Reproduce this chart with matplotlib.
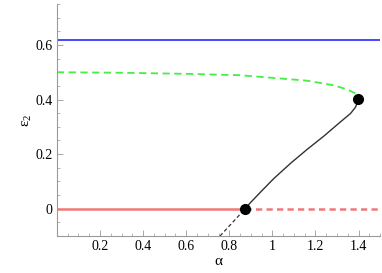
import matplotlib
matplotlib.use("Agg")
import matplotlib.pyplot as plt
from matplotlib.ticker import MultipleLocator, FixedLocator

plt.rcParams['font.family'] = 'serif'
plt.rcParams['font.serif'] = ['Liberation Serif', 'DejaVu Serif']
plt.rcParams['mathtext.fontset'] = 'custom'
plt.rcParams['mathtext.rm'] = 'Liberation Serif'
plt.rcParams['mathtext.it'] = 'Liberation Serif'

SERIF = 'Liberation Serif'

# Data
blue_level = 0.618

green_alpha = [0.0, 0.3, 0.6, 0.85, 1.006, 1.161, 1.285, 1.347, 1.386, 1.397]
green_eps   = [0.500, 0.498, 0.494, 0.489, 0.479, 0.469, 0.452, 0.437, 0.422, 0.401]

black_alpha = [0.874, 0.898, 0.944, 1.006, 1.084, 1.161, 1.239, 1.316, 1.363, 1.386, 1.393, 1.397]
black_eps   = [0.0, 0.022, 0.060, 0.110, 0.166, 0.217, 0.266, 0.318, 0.349, 0.372, 0.386, 0.401]

black_dash_alpha = [0.757, 0.874]
black_dash_eps   = [-0.1, 0.0]

red_solid_alpha = [0.0, 0.874]
red_dash_alpha  = [0.874, 1.5]
red_level = 0.0

dots_alpha = [0.874, 1.397]
dots_eps   = [0.0, 0.401]

x_ticks = [0.2, 0.4, 0.6, 0.8, 1.0, 1.2, 1.4]
x_tick_labels = ['0.2', '0.4', '0.6', '0.8', '1', '1.2', '1.4']
y_ticks = [0, 0.2, 0.4, 0.6]
y_tick_labels = ['0', '0.2', '0.4', '0.6']

fig = plt.figure(figsize=(3.82, 2.73), dpi=100)
ax = fig.add_axes([0.149, 0.1355, 0.846, 0.85])

ax.axhline(blue_level, color='#2626ff', lw=1.2)
ax.plot(green_alpha, green_eps, color='#44ee44', lw=1.3, ls=(0, (4, 2.5)))
ax.plot(red_solid_alpha, [red_level]*2, color='#f07878', lw=1.8, solid_capstyle='butt')
ax.plot(red_dash_alpha, [red_level]*2, color='#f07878', lw=1.8, ls=(0, (2.5, 1.7)))
ax.plot(black_alpha, black_eps, color='#333333', lw=1.0)
ax.plot(black_dash_alpha, black_dash_eps, color='#333333', lw=0.9, ls=(0, (3, 2)))
ax.plot(dots_alpha, dots_eps, 'o', color='black', ms=7, zorder=5)

ax.set_xlim(0, 1.5)
ax.set_ylim(-0.1, 0.75)

ax.spines['top'].set_visible(False)
ax.spines['right'].set_visible(False)
for s in ['left', 'bottom']:
    ax.spines[s].set_color('#999999')
    ax.spines[s].set_linewidth(0.8)

ax.xaxis.set_major_locator(FixedLocator(x_ticks))
ax.xaxis.set_minor_locator(MultipleLocator(0.05))
ax.yaxis.set_major_locator(FixedLocator(y_ticks))
ax.yaxis.set_minor_locator(MultipleLocator(0.05))
ax.set_xticklabels(x_tick_labels, fontfamily=SERIF, fontsize=10)
ax.set_yticklabels(y_tick_labels, fontfamily=SERIF, fontsize=10)
ax.tick_params(which='major', direction='in', length=4, width=0.6, color='#999999', pad=3)
ax.tick_params(which='minor', direction='in', length=2, width=0.5, color='#999999')

ax.set_xlabel('α', fontsize=11, labelpad=1, fontfamily=SERIF)
ax.set_ylabel('ε$_2$', fontsize=11, labelpad=1, fontfamily=SERIF)

fig.savefig('out.png', dpi=100)
